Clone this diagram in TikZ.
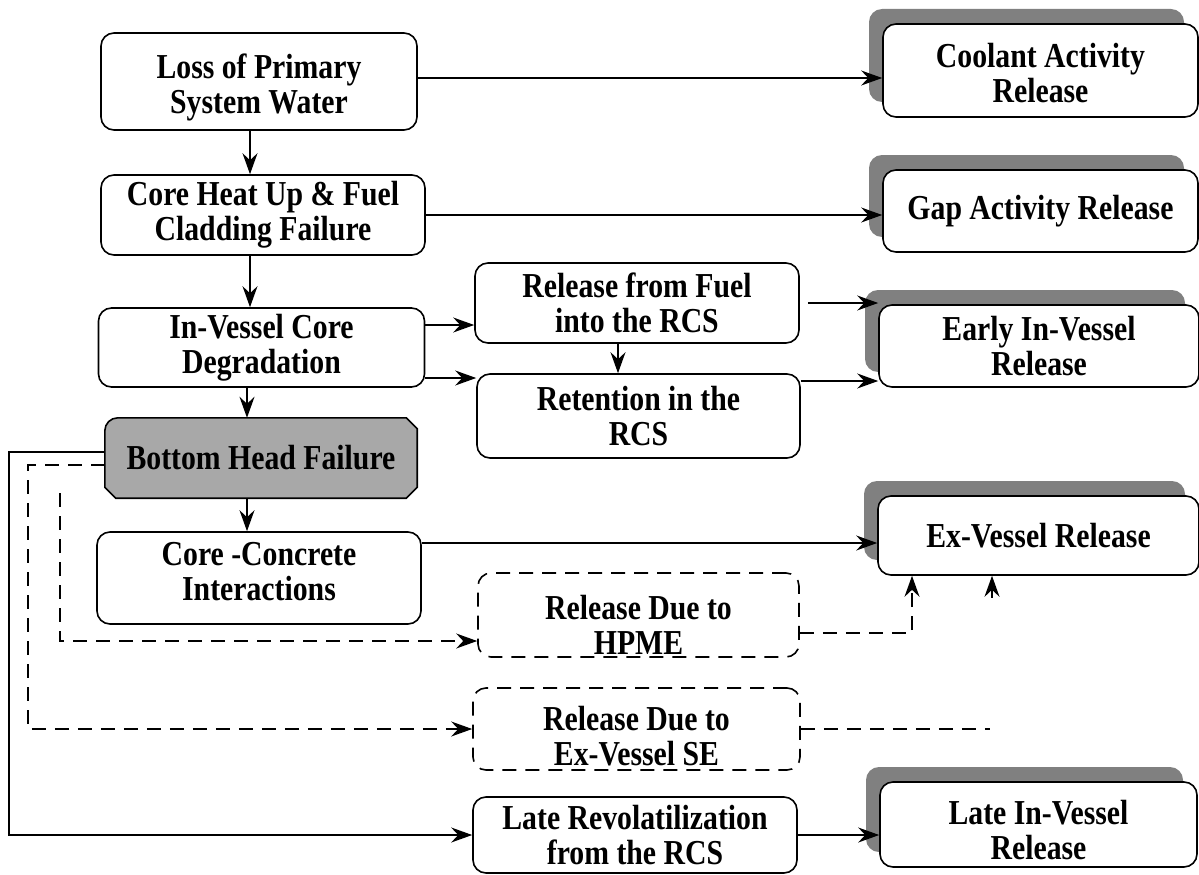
\documentclass[tikz,border=0pt]{standalone}
\usepackage{fontspec}
\setmainfont{Liberation Serif}[FakeStretch=0.85]
\usetikzlibrary{arrows.meta,shadows,backgrounds}
\definecolor{shadowgray}{RGB}{128,128,128}
\definecolor{bhgray}{RGB}{168,168,168}
\newcommand{\lift}[1]{\rule{0pt}{#1}}
\begin{document}
\begin{tikzpicture}[x=1pt,y=-1pt,
  font=\fontsize{35}{35}\selectfont\bfseries,
  box/.style={draw, line width=1.6pt, rounded corners=13pt, align=center, inner sep=1pt, fill=white},
  shbox/.style={box, general shadow={fill=shadowgray, shadow xshift=-14pt, shadow yshift=15pt}},
  dbox/.style={box, dash pattern=on 14pt off 9pt},
  arr/.style={line width=1.6pt, -{Stealth[length=21pt,width=15pt,inset=7pt]}},
  darr/.style={arr, dash pattern=on 14pt off 9pt},
  dline/.style={line width=1.6pt, dash pattern=on 14pt off 9pt},
]
\useasboundingbox (0,0) rectangle (1199,875);

% left column
\node[box, minimum width=316pt, minimum height=97pt] (loss) at (259,81.5) {\lift{37pt}Loss of Primary\\System Water};
\node[box, minimum width=324pt, minimum height=80pt] (heat) at (263,215) {Core Heat Up \& Fuel\\Cladding Failure};
\node[box, minimum width=326pt, minimum height=79pt] (invessel) at (261.5,347.5) {In-Vessel Core\\Degradation};
\node[minimum width=312pt, minimum height=80pt, inner sep=1pt, align=center] (bottom) at (261,458) {Bottom Head Failure};
\begin{scope}[on background layer]
\draw[line width=1.6pt, fill=bhgray]
  ([xshift=-11pt]bottom.north east) -- ([yshift=-11pt]bottom.north east)
  -- ([yshift=11pt]bottom.south east) -- ([xshift=-11pt]bottom.south east)
  -- ([xshift=11pt]bottom.south west) -- ([yshift=11pt]bottom.south west)
  [rounded corners=13pt] -- (bottom.north west) [sharp corners] -- cycle;
\end{scope}
\node[box, minimum width=324pt, minimum height=92pt, text depth=14pt] (concrete) at (259,578) {Core -Concrete\\Interactions};

% middle column
\node[box, minimum width=324pt, minimum height=80pt] (fuel) at (637,303) {Release from Fuel\\into the RCS};
\node[box, minimum width=323pt, minimum height=84pt] (retention) at (638.5,416) {Retention in the\\RCS};
\node[dbox, minimum width=321pt, minimum height=84pt] (hpme) at (638.5,615) {\lift{43pt}Release Due to\\HPME};
\node[dbox, minimum width=327pt, minimum height=82pt] (se) at (636.5,729) {\lift{38pt}Release Due to\\Ex-Vessel SE};
\node[box, minimum width=324pt, minimum height=76pt] (revol) at (635,835) {Late Revolatilization\\from the RCS};

% right column
\node[shbox, minimum width=315pt, minimum height=93pt] (coolant) at (1040.5,70.5) {\lift{30pt}Coolant Activity\\Release};
\node[shbox, minimum width=315pt, minimum height=82pt] (gap) at (1040.5,211) {Gap Activity Release};
\node[shbox, minimum width=320pt, minimum height=82pt] (early) at (1039,346) {Early In-Vessel\\Release};
\node[shbox, minimum width=321pt, minimum height=79pt] (exvessel) at (1038.5,535.5) {Ex-Vessel Release};
\node[shbox, minimum width=317pt, minimum height=85pt] (lateiv) at (1038.5,824.5) {\lift{35pt}Late In-Vessel\\Release};

% vertical connectors
\draw[arr] ([xshift=-9pt]loss.south) -- ([xshift=-9pt]loss.south |- heat.north);
\draw[arr] ([xshift=-13pt]heat.south) -- ([xshift=-13pt]heat.south |- invessel.north);
\draw[arr] ([xshift=-14.5pt]invessel.south) -- ([xshift=-14.5pt]invessel.south |- bottom.north);
\draw[arr] ([xshift=-14pt]bottom.south) -- ([xshift=-14pt]bottom.south |- concrete.north);
\draw[arr] ([xshift=-19pt]fuel.south) -- ([xshift=-19pt]fuel.south |- retention.north);

% horizontal connectors
\draw[arr] ([yshift=3.5pt]loss.east) -- ([yshift=3.5pt]loss.east -| coolant.west);
\draw[arr] (heat.east) -- (heat.east -| gap.west);
\draw[arr] ([yshift=22.5pt]invessel.east) -- ([yshift=22.5pt]invessel.east -| fuel.west);
\draw[arr] ([yshift=-30.5pt]invessel.east) -- ([yshift=-30.5pt]invessel.east -| retention.west);
\draw[arr] ([xshift=8pt]fuel.east) -- (fuel.east -| early.west);
\draw[arr] ([yshift=-35pt]early.west -| retention.east) -- ([yshift=-35pt]early.west);
\draw[arr] ([yshift=35pt]concrete.east) -- ([yshift=35pt]concrete.east -| exvessel.west);
\draw[arr] (revol.east) -- (revol.east -| lateiv.west);

% bypass lines from bottom head failure
\draw[arr] ([yshift=6pt]bottom.west) -- ++(-96,0) |- (revol.west);
\draw[darr] ([yshift=-7pt]bottom.west) -- ++(-77,0) |- (se.west);
\coordinate (hs) at (60,493);
\draw[darr] (hs) |- ([yshift=-26pt]hpme.west);
\draw[darr] ([yshift=-18pt]hpme.east) -| ([xshift=-126.5pt]exvessel.south);
\coordinate (seend) at (990,729);
\draw[dline] (se.east) -- (seend);
\draw[arr] ([xshift=-46.5pt,yshift=-22pt]exvessel.south) -- ([xshift=-46.5pt]exvessel.south);
\end{tikzpicture}
\end{document}
